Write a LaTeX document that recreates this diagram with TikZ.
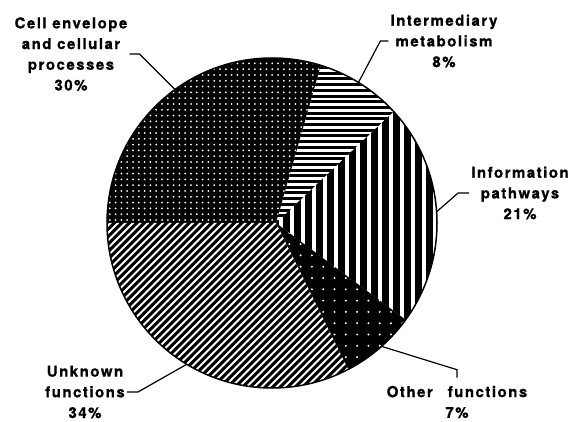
\documentclass[tikz,border=0pt]{standalone}
\usepackage{fontspec}
\setmainfont{TeX Gyre Heros}[LetterSpace=10, BoldFeatures={FakeBold=0.8}]
\begin{document}
\begin{tikzpicture}[x=1pt,y=1pt,
	lab/.style={font=\bfseries\fontsize{15}{20.7}\selectfont, align=center, inner sep=2pt},
	lead/.style={line width=1.2pt}]
	\useasboundingbox (0,0) rectangle (568,421);
	\coordinate (ctr) at (272,198);
	\coordinate (apex) at (276,198);
	% 画扇形：细胞被膜（黑底白点）
	\begin{scope}
		\clip (apex) -- ([shift={(72.8:165pt)}]ctr) arc[start angle=72.8, end angle=180, radius=165pt] -- cycle;
		\fill (100,190) rectangle (330,370);
		\foreach \x in {104,109.8,...,330}
			\foreach \y in {201,206.8,...,370}
				\fill[white] (\x,\y) circle[radius=1pt];
	\end{scope}
	% 画扇形：中间代谢（横线）
	\begin{scope}
		\clip (apex) -- ([shift={(42.5:165pt)}]ctr) arc[start angle=42.5, end angle=72.8, radius=165pt] -- cycle;
		\foreach \y in {198,203.7,...,370}
			\fill (260,\y) rectangle (445,\y+3);
	\end{scope}
	% 画扇形：信息通路（竖线）
	\begin{scope}
		\clip (apex) -- ([shift={(-35.9:165pt)}]ctr) arc[start angle=-35.9, end angle=42.5, radius=165pt] -- cycle;
		\foreach \x in {272,283,...,445}
			\fill (\x,90) rectangle (\x+6.5,320);
	\end{scope}
	% 画扇形：其他功能（黑底疏点）
	\begin{scope}
		\clip (apex) -- ([shift={(-62.5:165pt)}]ctr) arc[start angle=-62.5, end angle=-35.9, radius=165pt] -- cycle;
		\fill (270,20) rectangle (420,200);
		\foreach \x in {278,289.3,...,420}
			\foreach \y in {30,41.3,...,200}
				\fill[white] (\x,\y) circle[radius=1.1pt];
	\end{scope}
	% 画扇形：未知功能（斜线）
	\begin{scope}
		\clip (apex) -- ([shift={(180:165pt)}]ctr) arc[start angle=180, end angle=297.5, radius=165pt] -- cycle;
		\fill (100,20) rectangle (360,200);
		\foreach \s in {-90,-82.5,...,360}
			\draw[white, line width=2pt] (\s,20) -- ++(200,200);
	\end{scope}
	% 画外圆
	\draw[line width=1.5pt] (ctr) circle[radius=165pt];
	% 标注
	\node[lab] (cell) at (71,367) {Cell envelope\\and cellular\\processes\\30\%};
	\node[lab] (inter) at (444,380) {Intermediary\\metabolism\\8\%};
	\node[lab] (info) at (520,228) {Information\\pathways\\21\%};
	\node[lab] (unk) at (85,29) {Unknown\\functions\\34\%};
	\node[lab] (oth) at (457,19) {Other\hspace{1em}functions\\7\%};
	\coordinate (cellpt) at ([shift={(126:165pt)}]ctr);
	\coordinate (interpt) at ([shift={(58.4:165pt)}]ctr);
	\coordinate (infopt) at ([shift={(3.9:165pt)}]ctr);
	\coordinate (unkpt) at ([shift={(238.9:165pt)}]ctr);
	\coordinate (othpt) at ([shift={(-48.4:165pt)}]ctr);
	% 画引线
	\draw[lead] (cell.east) -- ++(10,0) -- (cellpt);
	\draw[lead] (inter.west) -- ++(-8,0) -- (interpt);
	\draw[lead] (info.west) -- ++(-11,0) -- (infopt);
	\draw[lead] (unk.east) -- ++(11,0) -- (unkpt);
	\draw[lead, shorten <=6pt] (oth.north) -- ++(0,14) -- (othpt);
\end{tikzpicture}
\end{document}
